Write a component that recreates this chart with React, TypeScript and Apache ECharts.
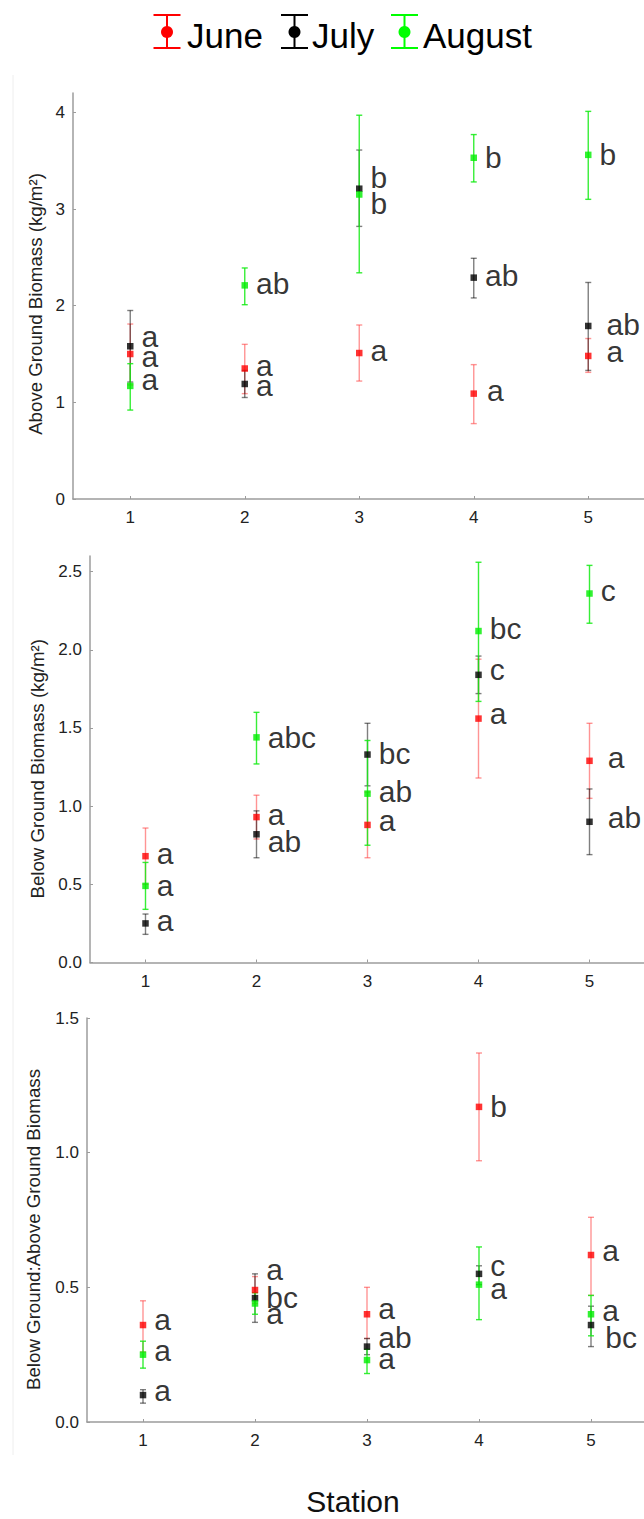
import React, { useEffect, useRef } from 'react';
import * as echarts from 'echarts';

const FONT = '"Liberation Sans", Arial, Helvetica, sans-serif';

const stations = ['1', '2', '3', '4', '5'];
const months = ['June', 'July', 'August'];
const markerColors = ['#ff0000', '#000000', '#00ee00'];
const errorColors = ['rgba(255,60,60,0.55)', 'rgba(0,0,0,0.5)', 'rgba(20,235,20,0.85)'];
const legendColors = ['#ff0000', '#000000', '#00ff00'];

const yTitles = [
  'Above Ground Biomass (kg/m²)',
  'Below Ground Biomass (kg/m²)',
  'Below Ground:Above Ground Biomass',
];
const xTitle = 'Station';

// ---- Panel 1: Above ground biomass ----
const agbJuneMean = [1.5, 1.35, 1.51, 1.09, 1.48];
const agbJuneLow = [1.18, 1.09, 1.22, 0.78, 1.31];
const agbJuneHigh = [1.81, 1.6, 1.8, 1.39, 1.66];
const agbJulyMean = [1.58, 1.19, 3.21, 2.29, 1.79];
const agbJulyLow = [1.21, 1.05, 2.82, 2.08, 1.33];
const agbJulyHigh = [1.95, 1.33, 3.61, 2.49, 2.24];
const agbAugMean = [1.17, 2.21, 3.15, 3.53, 3.56];
const agbAugLow = [0.92, 2.01, 2.34, 3.28, 3.1];
const agbAugHigh = [1.4, 2.39, 3.97, 3.77, 4.01];
const agbJuneLetters = ['a', 'a', 'a', 'a', 'a'];
const agbJulyLetters = ['a', 'a', 'b', 'ab', 'ab'];
const agbAugLetters = ['a', 'ab', 'b', 'b', 'b'];

// ---- Panel 2: Below ground biomass ----
const bgbJuneMean = [0.68, 0.93, 0.88, 1.56, 1.29];
const bgbJuneLow = [0.5, 0.79, 0.67, 1.18, 1.05];
const bgbJuneHigh = [0.86, 1.07, 1.09, 1.94, 1.53];
const bgbJulyMean = [0.25, 0.82, 1.33, 1.84, 0.9];
const bgbJulyLow = [0.18, 0.67, 1.13, 1.72, 0.69];
const bgbJulyHigh = [0.31, 0.97, 1.53, 1.96, 1.11];
const bgbAugMean = [0.49, 1.44, 1.08, 2.12, 2.36];
const bgbAugLow = [0.34, 1.27, 0.75, 1.67, 2.17];
const bgbAugHigh = [0.64, 1.6, 1.42, 2.56, 2.54];
const bgbJuneLetters = ['a', 'a', 'a', 'a', 'a'];
const bgbJulyLetters = ['a', 'ab', 'bc', 'c', 'ab'];
const bgbAugLetters = ['a', 'abc', 'ab', 'bc', 'c'];

// ---- Panel 3: Below:Above ratio ----
const ratioJuneMean = [0.36, 0.49, 0.4, 1.17, 0.62];
const ratioJuneLow = [0.26, 0.44, 0.31, 0.97, 0.47];
const ratioJuneHigh = [0.45, 0.54, 0.5, 1.37, 0.76];
const ratioJulyMean = [0.1, 0.46, 0.28, 0.55, 0.36];
const ratioJulyLow = [0.07, 0.37, 0.25, 0.51, 0.28];
const ratioJulyHigh = [0.12, 0.55, 0.31, 0.58, 0.43];
const ratioAugMean = [0.25, 0.44, 0.23, 0.51, 0.4];
const ratioAugLow = [0.2, 0.4, 0.18, 0.38, 0.32];
const ratioAugHigh = [0.3, 0.48, 0.27, 0.65, 0.47];
const ratioJuneLetters = ['a', 'a', 'a', 'b', 'a'];
const ratioJulyLetters = ['a', 'bc', 'ab', 'c', 'bc'];
const ratioAugLetters = ['a', 'a', 'a', 'a', 'a'];

// label shifts (layout only, pixels) so stacked letters do not sit on top of each other
const shiftYP1 = [
  [2, -3, -3, -3, -4],
  [-10, 2, -11, -2, -1],
  [-6, -2, 9, 0, 0],
];
const shiftYP2 = [
  [-3, -3, -4, -5, -3],
  [-3, 7, -1, -5, -4],
  [0, 0, -2, -3, -3],
];
const shiftYP3 = [
  [-6, -21, -6, 0, -5],
  [-5, -1, -9, -8, 12],
  [-4, 10, -2, 4, -4],
];
const shiftXP1 = [
  [0, 0, 0, 2, 7],
  [0, 0, 0, 0, 7],
  [0, 0, 0, 0, 0],
];
const shiftXP2 = [
  [0, 0, 0, 0, 7],
  [0, 0, 0, 0, 7],
  [0, 0, 0, 0, 0],
];
const shiftXP3 = [
  [0, 0, 0, 0, 0],
  [0, 0, 0, 0, 3],
  [0, 0, 0, 0, 0],
];

const panels = [
  {
    means: [agbJuneMean, agbJulyMean, agbAugMean],
    lows: [agbJuneLow, agbJulyLow, agbAugLow],
    highs: [agbJuneHigh, agbJulyHigh, agbAugHigh],
    letters: [agbJuneLetters, agbJulyLetters, agbAugLetters],
    shiftY: shiftYP1,
    shiftX: shiftXP1,
    max: 4.2,
    interval: 1,
    decimals: 0,
  },
  {
    means: [bgbJuneMean, bgbJulyMean, bgbAugMean],
    lows: [bgbJuneLow, bgbJulyLow, bgbAugLow],
    highs: [bgbJuneHigh, bgbJulyHigh, bgbAugHigh],
    letters: [bgbJuneLetters, bgbJulyLetters, bgbAugLetters],
    shiftY: shiftYP2,
    shiftX: shiftXP2,
    max: 2.6,
    interval: 0.5,
    decimals: 1,
  },
  {
    means: [ratioJuneMean, ratioJulyMean, ratioAugMean],
    lows: [ratioJuneLow, ratioJulyLow, ratioAugLow],
    highs: [ratioJuneHigh, ratioJulyHigh, ratioAugHigh],
    letters: [ratioJuneLetters, ratioJulyLetters, ratioAugLetters],
    shiftY: shiftYP3,
    shiftX: shiftXP3,
    max: 1.5,
    interval: 0.5,
    decimals: 1,
  },
];

const gridRects = [
  { left: 73, top: 93, width: 572.5, height: 406 },
  { left: 90, top: 556, width: 555, height: 406.5 },
  { left: 87, top: 1018, width: 560, height: 404 },
];
const nameGaps = [26, 43, 44];
const namePads = [16, 19, 19];

function buildOption() {
  const axisLineStyle = { color: '#9c9c9c', width: 1.5 };
  const grid = gridRects.map((g) => ({ ...g, outerBoundsMode: 'none', containLabel: false }));
  const xAxis = gridRects.map((_, p) => ({
    gridIndex: p,
    type: 'category',
    data: stations,
    boundaryGap: true,
    axisLine: { show: true, lineStyle: axisLineStyle },
    axisTick: { show: true, inside: true, alignWithLabel: true, length: 3, lineStyle: { color: '#9c9c9c' } },
    axisLabel: { color: '#222', fontSize: 17, fontFamily: FONT, margin: 10 },
    splitLine: { show: false },
    ...(p === 2
      ? {
          name: xTitle,
          nameLocation: 'middle',
          nameGap: 64,
          nameTextStyle: { fontSize: 30, color: '#111', fontFamily: FONT, padding: [0, 28, 0, 0] },
        }
      : {}),
  }));
  const yAxis = panels.map((pn, p) => ({
    gridIndex: p,
    type: 'value',
    min: 0,
    max: pn.max,
    interval: pn.interval,
    name: yTitles[p],
    nameLocation: 'middle',
    nameGap: nameGaps[p],
    nameTextStyle: { fontSize: 18.7, color: '#222', fontFamily: FONT, padding: [0, namePads[p], 0, 0] },
    axisLine: { show: true, lineStyle: axisLineStyle },
    axisTick: { show: true, inside: true, length: 3, lineStyle: { color: '#9c9c9c' } },
    axisLabel: {
      color: '#222',
      fontSize: 17,
      fontFamily: FONT,
      margin: 8,
      showMaxLabel: pn.max % pn.interval === 0 ? true : false,
      formatter: (v: number) => v.toFixed(pn.decimals),
    },
    splitLine: { show: false },
  }));

  const series: any[] = [];
  panels.forEach((pn, p) => {
    months.forEach((m, k) => {
      const color = errorColors[k];
      series.push({
        type: 'custom',
        name: m,
        xAxisIndex: p,
        yAxisIndex: p,
        z: 1,
        silent: true,
        data: pn.lows[k].map((lo, i) => [i, lo, pn.highs[k][i]]),
        encode: { x: 0, y: [1, 2] },
        renderItem: (params: any, api: any) => {
          const lo = api.coord([api.value(0), api.value(1)]);
          const hi = api.coord([api.value(0), api.value(2)]);
          const cap = 3;
          const style = { stroke: color, lineWidth: 1.4 };
          return {
            type: 'group',
            children: [
              { type: 'line', shape: { x1: lo[0], y1: lo[1], x2: hi[0], y2: hi[1] }, style },
              { type: 'line', shape: { x1: lo[0] - cap, y1: lo[1], x2: lo[0] + cap, y2: lo[1] }, style },
              { type: 'line', shape: { x1: hi[0] - cap, y1: hi[1], x2: hi[0] + cap, y2: hi[1] }, style },
            ],
          };
        },
      });
      series.push({
        type: 'scatter',
        name: m,
        xAxisIndex: p,
        yAxisIndex: p,
        z: 3,
        symbol: 'rect',
        symbolSize: 6.5,
        itemStyle: { color: markerColors[k] },
        label: {
          show: true,
          position: 'right',
          distance: 8,
          color: '#000',
          fontSize: 30,
          fontFamily: FONT,
        },
        data: pn.means[k].map((v, i) => ({
          value: [i, v],
          label: { formatter: pn.letters[k][i], offset: [pn.shiftX[k][i], pn.shiftY[k][i]] },
        })),
      });
    });
  });

  const legendIconX = [167, 294.5, 404.5];
  const legendTextX = [187, 312, 423];
  const graphic: any[] = [];
  months.forEach((m, k) => {
    const cx = legendIconX[k];
    const c = legendColors[k];
    const st = { stroke: c, lineWidth: 2 };
    graphic.push({
      type: 'group',
      children: [
        { type: 'line', shape: { x1: cx - 13.5, y1: 15, x2: cx + 13.5, y2: 15 }, style: st },
        { type: 'line', shape: { x1: cx - 13.5, y1: 48, x2: cx + 13.5, y2: 48 }, style: st },
        { type: 'line', shape: { x1: cx, y1: 15, x2: cx, y2: 48 }, style: st },
        { type: 'circle', shape: { cx, cy: 32, r: 6 }, style: { fill: c } },
        {
          type: 'text',
          x: legendTextX[k],
          y: 35,
          style: { text: m, fill: '#000', font: `35px ${FONT}`, textAlign: 'left', textVerticalAlign: 'middle' },
        },
      ],
    });
  });
  graphic.push({
    type: 'line',
    shape: { x1: 13, y1: 75, x2: 13, y2: 1455 },
    style: { stroke: '#eeeeee', lineWidth: 1 },
    silent: true,
  });

  return {
    animation: false,
    backgroundColor: '#ffffff',
    textStyle: { fontFamily: FONT },
    grid,
    xAxis,
    yAxis,
    series,
    graphic,
  };
}

export default function App() {
  const ref = useRef<HTMLDivElement>(null);
  useEffect(() => {
    if (!ref.current) return;
    const chart = echarts.init(ref.current, undefined, { renderer: 'svg' });
    chart.setOption(buildOption() as any);
    return () => chart.dispose();
  }, []);
  return (
    <div
      ref={ref}
      style={{ position: 'absolute', left: 0, top: 0, width: 644, height: 1519, background: '#fff' }}
    />
  );
}
